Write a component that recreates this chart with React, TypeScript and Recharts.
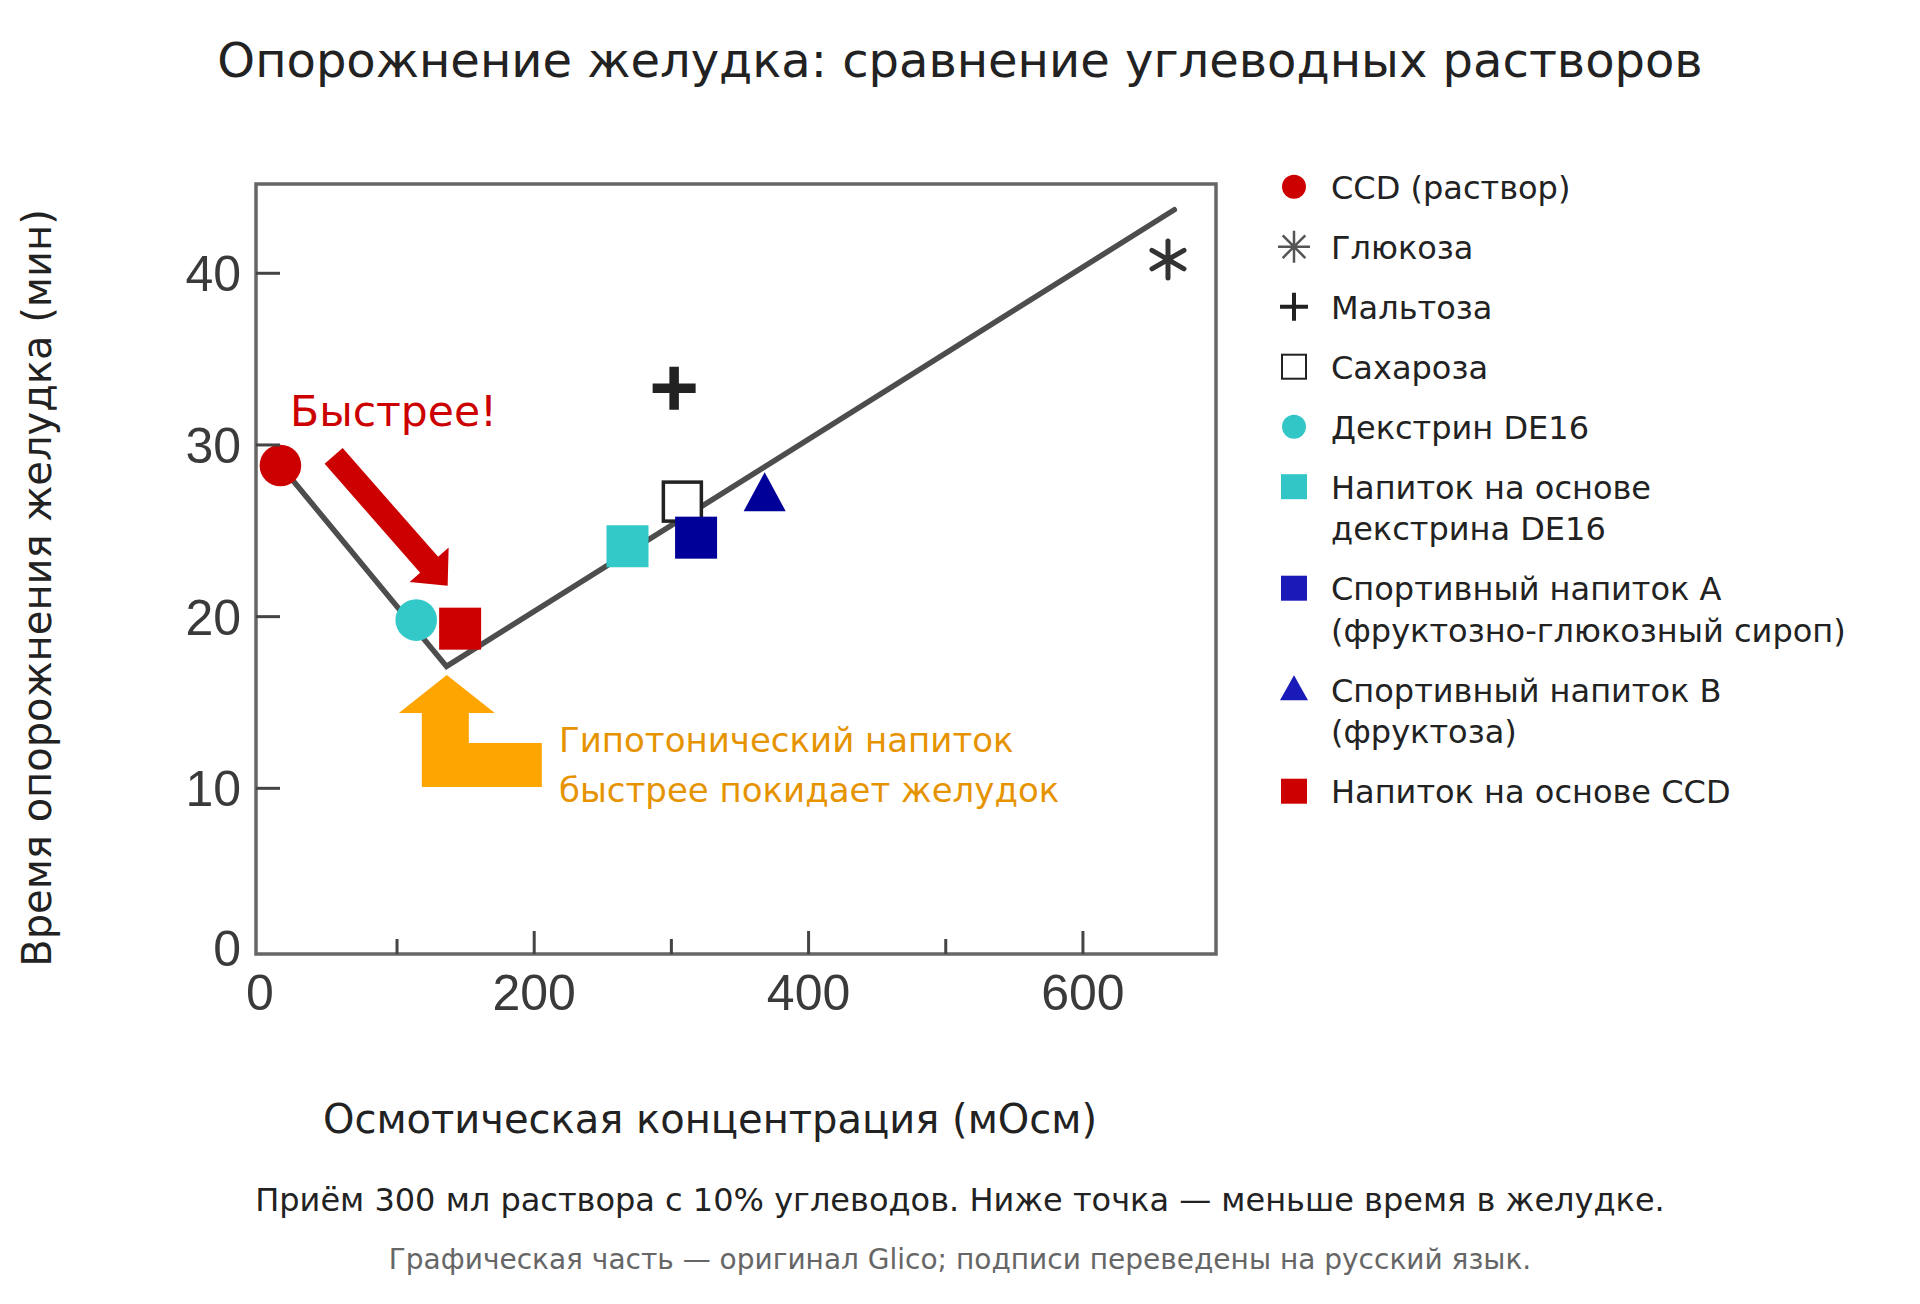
import { ComposedChart, Scatter, XAxis, YAxis, ReferenceArea, ReferenceDot } from 'recharts';

const W = 1920;
const H = 1304;
// plot rectangle in page pixels (frame of the original Glico figure)
const PLOT = { left: 256, right: 1216, top: 184, bottom: 954 };
const X_AXIS_H = 40;
const Y_AXIS_W = 40;

const FONT = '"DejaVu Sans", Verdana, sans-serif';
const TICK_FONT = '"Liberation Sans", Arial, sans-serif';

const X_DOMAIN: [number, number] = [-2.8, 697];
const Y_DOMAIN: [number, number] = [0.35, 45.2];
const X_TICKS = [0, 100, 200, 300, 400, 500, 600];
const X_TICK_LABELS = [0, 200, 400, 600];
const Y_TICKS = [0, 10, 20, 30, 40];

const seriesNames = [
  ['CCD (раствор)'],
  ['Глюкоза'],
  ['Мальтоза'],
  ['Сахароза'],
  ['Декстрин DE16'],
  ['Напиток на основе', 'декстрина DE16'],
  ['Спортивный напиток A', '(фруктозно-глюкозный сироп)'],
  ['Спортивный напиток B', '(фруктоза)'],
  ['Напиток на основе CCD'],
];
// осмотическая концентрация, мОсм
const osmolality = [15, 662, 302, 308, 114, 268, 318, 368, 146];
// время опорожнения желудка, мин
const emptyingMin = [28.8, 40.8, 33.3, 26.7, 19.8, 24.1, 24.6, 26.9, 19.3];
const markerKind = ['circle', 'asterisk', 'plus', 'openSquare', 'circle', 'square', 'square', 'triangle', 'square'];
const plotColor = ['#cc0000', '#333333', '#222222', '#222222', '#33c9c9', '#33c9c9', '#000099', '#000099', '#cc0000'];
const legendColor = ['#cc0000', '#555555', '#222222', '#222222', '#33c6c6', '#33c6c6', '#1a1ab8', '#1a1ab8', '#cc0000'];

// V-shaped trend line
const trendOsm = [15.1, 136.1, 666.6];
const trendMin = [28.8, 17.1, 43.7];

// anchors of the annotation arrows (arrow tips), in data units
const fasterTip = { x: 136.9, y: 21.8 };
const hypoTip = { x: 136.3, y: 16.6 };

const RED_ARROW = [
  [-105, -137.7], [-9.5, -28.9], [1, -38.2], [0, 0], [-38, -3.8], [-27.5, -13.1], [-123, -121.9],
];
const ORANGE_ARROW = [
  [0, 0], [48, 38], [22, 38], [22, 68], [95, 68], [95, 112], [-25, 112], [-25, 38], [-48, 38],
];

const polyAt = (pts: number[][], cx: number, cy: number) =>
  pts.map(([dx, dy]) => `${cx + dx},${cy + dy}`).join(' ');

function PlotMarker({ cx, cy, kind, color }: { cx: number; cy: number; kind: string; color: string }) {
  switch (kind) {
    case 'circle':
      return <circle cx={cx} cy={cy} r={20.8} fill={color} />;
    case 'square':
      return <rect x={cx - 21} y={cy - 21} width={42} height={42} fill={color} />;
    case 'openSquare':
      return <rect x={cx - 19} y={cy - 19.5} width={38} height={39} fill="#fff" stroke={color} strokeWidth={3.5} />;
    case 'triangle':
      return <polygon points={`${cx},${cy - 26} ${cx + 21},${cy + 13} ${cx - 21},${cy + 13}`} fill={color} />;
    case 'plus':
      return (
        <path
          d={`M${cx - 21.5},${cy} H${cx + 21.5} M${cx},${cy - 21.5} V${cy + 21.5}`}
          stroke={color}
          strokeWidth={9.5}
        />
      );
    case 'asterisk': {
      const r = 18.5;
      const a = r * Math.cos(Math.PI / 6);
      const b = r * Math.sin(Math.PI / 6);
      return (
        <path
          d={`M${cx},${cy - r} V${cy + r} M${cx - a},${cy - b} L${cx + a},${cy + b} M${cx - a},${cy + b} L${cx + a},${cy - b}`}
          stroke={color}
          strokeWidth={5}
          strokeLinecap="round"
        />
      );
    }
    default:
      return <g />;
  }
}

function LegendMarker({ cx, cy, kind, color }: { cx: number; cy: number; kind: string; color: string }) {
  switch (kind) {
    case 'circle':
      return <circle cx={cx} cy={cy} r={12} fill={color} />;
    case 'square':
      return <rect x={cx - 13} y={cy - 12.5} width={26} height={25} fill={color} />;
    case 'openSquare':
      return <rect x={cx - 12} y={cy - 12} width={24} height={24} fill="#fff" stroke={color} strokeWidth={2} />;
    case 'triangle':
      return <polygon points={`${cx},${cy - 14.5} ${cx + 14},${cy + 10.5} ${cx - 14},${cy + 10.5}`} fill={color} />;
    case 'plus':
      return <path d={`M${cx - 14},${cy} H${cx + 14} M${cx},${cy - 14} V${cy + 14}`} stroke={color} strokeWidth={4} />;
    case 'asterisk': {
      const r = 16;
      const d = r * Math.SQRT1_2;
      return (
        <path
          d={`M${cx - r},${cy} H${cx + r} M${cx},${cy - r} V${cy + r} M${cx - d},${cy - d} L${cx + d},${cy + d} M${cx - d},${cy + d} L${cx + d},${cy - d}`}
          stroke={color}
          strokeWidth={2.5}
        />
      );
    }
    default:
      return <g />;
  }
}

const XTick = (props: any) => {
  const { x, y, payload } = props;
  const v = payload.value;
  const major = X_TICK_LABELS.includes(v);
  return (
    <g>
      {v !== 0 ? (
        <line x1={x} x2={x} y1={y} y2={y - (major ? 23 : 15)} stroke="#444" strokeWidth={3} />
      ) : null}
      {major ? (
        <text x={x} y={y + 56} textAnchor="middle" fontFamily={TICK_FONT} fontSize={50} fill="#3a3a3a">
          {v}
        </text>
      ) : null}
    </g>
  );
};

const YTick = (props: any) => {
  const { x, y, payload } = props;
  const v = payload.value;
  return (
    <g>
      {v !== 0 ? <line x1={x} x2={x + 24} y1={y} y2={y} stroke="#444" strokeWidth={3} /> : null}
      <text x={x - 15} y={y + (v === 0 ? 6 : 18)} textAnchor="end" fontFamily={TICK_FONT} fontSize={50} fill="#3a3a3a">
        {v}
      </text>
    </g>
  );
};

const LEGEND_X = 1294;
const LEGEND_TEXT_X = 1331;
const LEGEND_Y0 = 186.7;
const LEGEND_ROW = 60;
const LEGEND_LINE = 41.5;

function LegendBlock() {
  let extra = 0;
  return (
    <g>
      {seriesNames.map((lines, i) => {
        const cy = LEGEND_Y0 + i * LEGEND_ROW + extra * LEGEND_LINE;
        extra += lines.length - 1;
        return (
          <g key={i}>
            <LegendMarker cx={LEGEND_X} cy={cy} kind={markerKind[i]} color={legendColor[i]} />
            {lines.map((ln, j) => (
              <text
                key={j}
                x={LEGEND_TEXT_X}
                y={cy + 12 + j * LEGEND_LINE}
                fontFamily={FONT}
                fontSize={32}
                fill="#222"
              >
                {ln}
              </text>
            ))}
          </g>
        );
      })}
    </g>
  );
}

export default function App() {
  const trendData = trendOsm.map((x, i) => ({ x, y: trendMin[i] }));

  return (
    <div style={{ position: 'absolute', left: 0, top: 0, width: W, height: H, background: '#fff' }}>
      <ComposedChart
        width={W}
        height={H}
        margin={{
          top: PLOT.top,
          right: W - PLOT.right,
          bottom: H - PLOT.bottom - X_AXIS_H,
          left: PLOT.left - Y_AXIS_W,
        }}
      >
        <XAxis
          type="number"
          dataKey="x"
          domain={X_DOMAIN}
          allowDataOverflow
          ticks={X_TICKS}
          interval={0}
          height={X_AXIS_H}
          tickSize={0}
          tickMargin={0}
          tickLine={false}
          axisLine={false}
          tick={<XTick />}
        />
        <YAxis
          type="number"
          dataKey="y"
          domain={Y_DOMAIN}
          allowDataOverflow
          ticks={Y_TICKS}
          interval={0}
          width={Y_AXIS_W}
          tickSize={0}
          tickMargin={0}
          tickLine={false}
          axisLine={false}
          tick={<YTick />}
        />
        <ReferenceArea
          x1={X_DOMAIN[0]}
          x2={X_DOMAIN[1]}
          y1={Y_DOMAIN[0]}
          y2={Y_DOMAIN[1]}
          fill="none"
          fillOpacity={0}
          stroke="#666"
          strokeWidth={3.5}
          ifOverflow="visible"
        />
        <Scatter
          data={trendData}
          line={{ stroke: '#4d4d4d', strokeWidth: 5.5, strokeLinejoin: 'miter', strokeLinecap: 'round' }}
          shape={() => <g />}
          isAnimationActive={false}
        />
        {seriesNames.map((_, i) => (
          <Scatter
            key={i}
            name={seriesNames[i].join(' ')}
            data={[{ x: osmolality[i], y: emptyingMin[i] }]}
            shape={(p: any) => <PlotMarker cx={p.cx} cy={p.cy} kind={markerKind[i]} color={plotColor[i]} />}
            isAnimationActive={false}
          />
        ))}
        <ReferenceDot
          x={fasterTip.x}
          y={fasterTip.y}
          ifOverflow="visible"
          shape={(p: any) => <polygon points={polyAt(RED_ARROW, p.cx, p.cy)} fill="#cc0000" />}
        />
        <ReferenceDot
          x={hypoTip.x}
          y={hypoTip.y}
          ifOverflow="visible"
          shape={(p: any) => <polygon points={polyAt(ORANGE_ARROW, p.cx, p.cy)} fill="#ffa500" />}
        />
      </ComposedChart>

      <svg
        width={W}
        height={H}
        style={{ position: 'absolute', left: 0, top: 0, pointerEvents: 'none' }}
      >
        <text x={960} y={77} textAnchor="middle" fontFamily={FONT} fontSize={48} fill="#222">
          Опорожнение желудка: сравнение углеводных растворов
        </text>
        <text x={290} y={426} fontFamily={FONT} fontSize={42.5} fill="#cc0000">
          Быстрее!
        </text>
        <text x={559} y={752} fontFamily={FONT} fontSize={34} fill="#e69300">
          Гипотонический напиток
        </text>
        <text x={559} y={802} fontFamily={FONT} fontSize={34} fill="#e69300">
          быстрее покидает желудок
        </text>
        <text
          x={51}
          y={588}
          transform="rotate(-90 51 588)"
          textAnchor="middle"
          fontFamily={FONT}
          fontSize={40}
          fill="#222"
        >
          Время опорожнения желудка (мин)
        </text>
        <text x={710} y={1133} textAnchor="middle" fontFamily={FONT} fontSize={40} fill="#222">
          Осмотическая концентрация (мОсм)
        </text>
        <text x={960} y={1211} textAnchor="middle" fontFamily={FONT} fontSize={32} fill="#222">
          Приём 300 мл раствора с 10% углеводов. Ниже точка — меньше время в желудке.
        </text>
        <text x={960} y={1269} textAnchor="middle" fontFamily={FONT} fontSize={28} fill="#666">
          Графическая часть — оригинал Glico; подписи переведены на русский язык.
        </text>
        <LegendBlock />
      </svg>
    </div>
  );
}
